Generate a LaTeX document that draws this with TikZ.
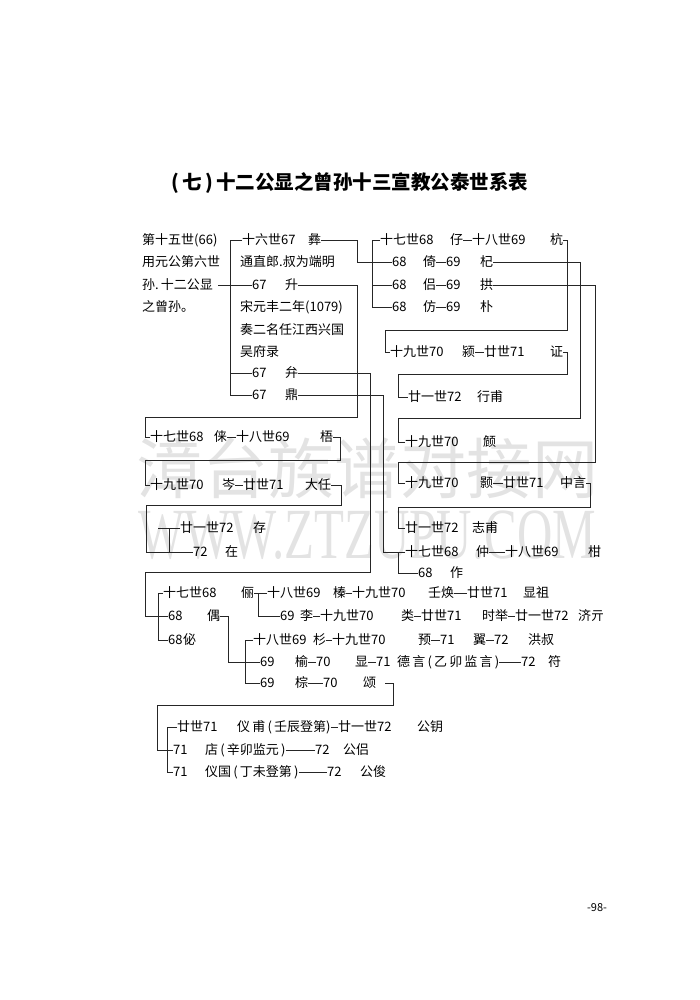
\documentclass[tikz,border=0pt]{standalone}
\usepackage{fontspec}
\setmainfont{Noto Sans CJK SC}
\newfontfamily\wmfont{Liberation Serif}
\tikzset{t/.style={anchor=west,inner sep=0pt,font=\fontsize{13}{13}\selectfont},
ln/.style={line width=0.9pt,black!85},
wmk/.style={gray!22,inner sep=0pt,anchor=west}}
\begin{document}
\begin{tikzpicture}[x=1pt,y=-1pt]
\useasboundingbox (0,0) rectangle (700,1000);
% watermark
\node[wmk,font=\fontsize{66}{66}\selectfont] (wm1) at (136,468) {漳台族谱对接网};
\node[wmk,font=\wmfont\fontsize{72}{72}\selectfont,xscale=0.68] (wm2) at (138,535) {WWW.ZTZUPU.COM};
% title
\node[font=\bfseries\fontsize{19.5}{19.5}\selectfont] (title) at (350,183) {(\,七\,)\,十二公显之曾孙十三宣教公泰世系表};
% 15th generation
\node[t] (s1) at (142,240) {第十五世(66)};
\node[t] (s2) at (142,262) {用元公第六世};
\node[t] (s3) at (142,285) {孙.\,十二公显};
\node[t] (s4) at (142,307) {之曾孙。};
% 16th generation
\node[t] (a1g) at (242,240) {十六世67};
\node[t] (a1n) at (308,240) {彝};
\node[t] (m1) at (240,262) {通直郎.叔为端明};
\node[t] (a2g) at (252,285) {67};
\node[t] (a2n) at (285,285) {升};
\node[t] (m2) at (240,307) {宋元丰二年(1079)};
\node[t] (m3) at (240,330) {奏二名任江西兴国};
\node[t] (m4) at (240,352) {吴府录};
\node[t] (a3g) at (252,373) {67};
\node[t] (a3n) at (285,373) {弁};
\node[t] (a4g) at (252,395) {67};
\node[t] (a4n) at (285,395) {鼎};
\draw[ln] (a1g.west) -- ++(-12,0) |- (a4g.west);
\draw[ln] (a3g.west) -- ++(-22,0);
\draw[ln] (s3.east) ++(5,0) -- (a2g.west);
% branch of yi
\node[t] (b1g) at (380,240) {十七世68};
\node[t] (b1n) at (450,240) {仔};
\node[t] (b1c) at (472,240) {十八世69};
\node[t] (b1d) at (550,240) {杭};
\node[t] (b2g) at (392,262) {68};
\node[t] (b2n) at (423,262) {倚};
\node[t] (b2c) at (446,262) {69};
\node[t] (b2d) at (480,262) {杞};
\node[t] (b3g) at (392,285) {68};
\node[t] (b3n) at (423,285) {侣};
\node[t] (b3c) at (446,285) {69};
\node[t] (b3d) at (480,285) {拱};
\node[t] (b4g) at (392,307) {68};
\node[t] (b4n) at (423,307) {仿};
\node[t] (b4c) at (446,307) {69};
\node[t] (b4d) at (480,307) {朴};
\draw[ln] (a1n.east) -| (357,262) -- (b2g.west);
\draw[ln] (b1g.west) -- ++(-8,0) |- (b4g.west);
\draw[ln] (b3g.west) -- ++(-20,0);
\foreach \r in {1,2,3,4} {\draw[ln] (b\r n.east) -- (b\r c.west);}
\node[t] (c1g) at (390,352) {十九世70};
\node[t] (c1n) at (462,352) {颍};
\node[t] (c1c) at (484,352) {廿世71};
\node[t] (c1d) at (550,352) {证};
\node[t] (c2g) at (408,397) {廿一世72};
\node[t] (c2n) at (477,397) {行甫};
\node[t] (c3g) at (405,442) {十九世70};
\node[t] (c3n) at (483,442) {𬱟};
\node[t] (c4g) at (405,483) {十九世70};
\node[t] (c4n) at (480,483) {颢};
\node[t] (c4c) at (503,483) {廿世71};
\node[t] (c4d) at (560,483) {中言};
\node[t] (c5g) at (405,528) {廿一世72};
\node[t] (c5n) at (472,528) {志甫};
\node[t] (c6g) at (405,552) {十七世68};
\node[t] (c6n) at (476,552) {仲};
\node[t] (c6c) at (505,552) {十八世69};
\node[t] (c6d) at (588,552) {柑};
\node[t] (c7g) at (418,573) {68};
\node[t] (c7n) at (450,573) {作};
\draw[ln] (c1n.east) -- (c1c.west);
\draw[ln] (c4n.east) -- (c4c.west);
\draw[ln] (c6n.east) -- (c6c.west);
\draw[ln] (b1d.east) -- ++(4,0) |- (385,330) |- (c1g.west);
\draw[ln] (c1d.east) -- ++(4,0) |- (398,374) |- (c2g.west);
\draw[ln] (b2d.east) -| (580,418) -- (398,418) |- (c3g.west);
\draw[ln] (b3d.east) -| (595,462) -- (398,462) |- (c4g.west);
\draw[ln] (c4d.east) -| (590,507) -- (398,507) |- (c5g.west);
\draw[ln] (a4n.east) -| (383,552) -- (c6g.west);
\draw[ln] (c6g.west) -- ++(-7,0) |- (c7g.west);
% branch of sheng
\node[t] (d1g) at (150,437) {十七世68};
\node[t] (d1n) at (214,437) {俫};
\node[t] (d1c) at (236,437) {十八世69};
\node[t] (d1d) at (320,437) {梧};
\node[t] (d2g) at (150,485) {十九世70};
\node[t] (d2n) at (222,485) {岑};
\node[t] (d2c) at (243,485) {廿世71};
\node[t] (d2d) at (305,485) {大任};
\node[t] (d3g) at (180,528) {廿一世72};
\node[t] (d3n) at (253,528) {存};
\node[t] (d4g) at (193,552) {72};
\node[t] (d4n) at (225,552) {在};
\draw[ln] (a2n.east) -| (357,417) -- (145,417) |- (d1g.west);
\draw[ln] (d1n.east) -- (d1c.west);
\draw[ln] (d2n.east) -- (d2c.west);
\draw[ln] (d1d.east) -| (340,460) -- (145,460) |- (d2g.west);
\draw[ln] (d2d.east) -| (341,505) -- (146,505) |- (d4g.west);
\draw[ln] (d3g.west) -- ++(-22,0);
\draw[ln] (d3g.west) -| (169,552);
% branch of bian
\node[t] (e1g) at (163,593) {十七世68};
\node[t] (e1n) at (241,593) {俪};
\node[t] (e1c) at (267,593) {十八世69};
\node[t] (e1d) at (333,593) {榛};
\node[t] (e1e) at (352,593) {十九世70};
\node[t] (e1f) at (428,593) {壬焕};
\node[t] (e1h) at (467,593) {廿世71};
\node[t] (e1i) at (523,593) {显祖};
\node[t] (e2g) at (168,616) {68};
\node[t] (e2n) at (207,616) {偶};
\node[t] (e3g) at (280,616) {69};
\node[t] (e3n) at (300,616) {李};
\node[t] (e3c) at (320,616) {十九世70};
\node[t] (e3d) at (401,616) {类};
\node[t] (e3e) at (421,616) {廿世71};
\node[t] (e3f) at (482,616) {时举};
\node[t] (e3h) at (515,616) {廿一世72};
\node[t] (e3i) at (578,616) {济亓};
\node[t] (e4g) at (168,640) {68};
\node[t] (e4n) at (183,640) {佖};
\draw[ln] (a3n.east) -| (370,572) -- (145,572) |- (e2g.west);
\draw[ln] (e1g.west) -- ++(-5,0) |- (e4g.west);
\draw[ln] (e1n.east) -- (e1c.west);
\draw[ln] (e1c.west) -- ++(-9,0) |- (e3g.west);
\draw[ln] (e1d.east) -- (e1e.west);
\draw[ln] (e1f.east) -- (e1h.west);
\draw[ln] (e3n.east) -- (e3c.west);
\draw[ln] (e3d.east) -- (e3e.west);
\draw[ln] (e3f.east) -- (e3h.west);
% branch of ou
\node[t] (f1g) at (253,640) {十八世69};
\node[t] (f1n) at (313,640) {杉};
\node[t] (f1c) at (332,640) {十九世70};
\node[t] (f1d) at (418,640) {预};
\node[t] (f1e) at (440,640) {71};
\node[t] (f1f) at (473,640) {翼};
\node[t] (f1h) at (494,640) {72};
\node[t] (f1i) at (528,640) {洪叔};
\node[t] (f2g) at (260,662) {69};
\node[t] (f2n) at (295,662) {榆};
\node[t] (f2c) at (316,662) {70};
\node[t] (f2d) at (355,662) {显};
\node[t] (f2e) at (376,662) {71};
\node[t] (f2f) at (397,662) {德\,言\,(\,乙\,卯\,监\,言\,)};
\node[t] (f2h) at (521,662) {72};
\node[t] (f2i) at (548,662) {符};
\node[t] (f3g) at (260,683) {69};
\node[t] (f3n) at (295,683) {棕};
\node[t] (f3c) at (323,683) {70};
\node[t] (f3d) at (363,683) {颂};
\draw[ln] (e2n.east) -| (228,662) -- (f2g.west);
\draw[ln] (f1g.west) -- ++(-8,0) |- (f3g.west);
\foreach \a/\b in {f1n/f1c,f1d/f1e,f1f/f1h,f2n/f2c,f2d/f2e,f2f/f2h,f3n/f3c} {\draw[ln] (\a.east) -- (\b.west);}
% branch of song
\node[t] (g1g) at (177,727) {廿世71};
\node[t] (g1n) at (237,727) {仪\,甫\,(\,壬辰登第)};
\node[t] (g1c) at (338,727) {廿一世72};
\node[t] (g1d) at (417,727) {公钥};
\node[t] (g2g) at (173,750) {71};
\node[t] (g2n) at (205,750) {店\,(\,辛卯监元\,)};
\node[t] (g2c) at (315,750) {72};
\node[t] (g2d) at (343,750) {公侣};
\node[t] (g3g) at (173,772) {71};
\node[t] (g3n) at (205,772) {仪国\,(\,丁未登第\,)};
\node[t] (g3c) at (327,772) {72};
\node[t] (g3d) at (360,772) {公俊};
\draw[ln] (f3d.east) ++(9,0) -| (393,705) -- (157,705) |- (g2g.west);
\draw[ln] (g1g.west) -- ++(-10,0) |- (g3g.west);
\foreach \r in {1,2,3} {\draw[ln] (g\r n.east) -- (g\r c.west);}
% page number
\node[font=\fontsize{11}{11}\selectfont] (pg) at (597,908) {-98-};
\end{tikzpicture}
\end{document}
